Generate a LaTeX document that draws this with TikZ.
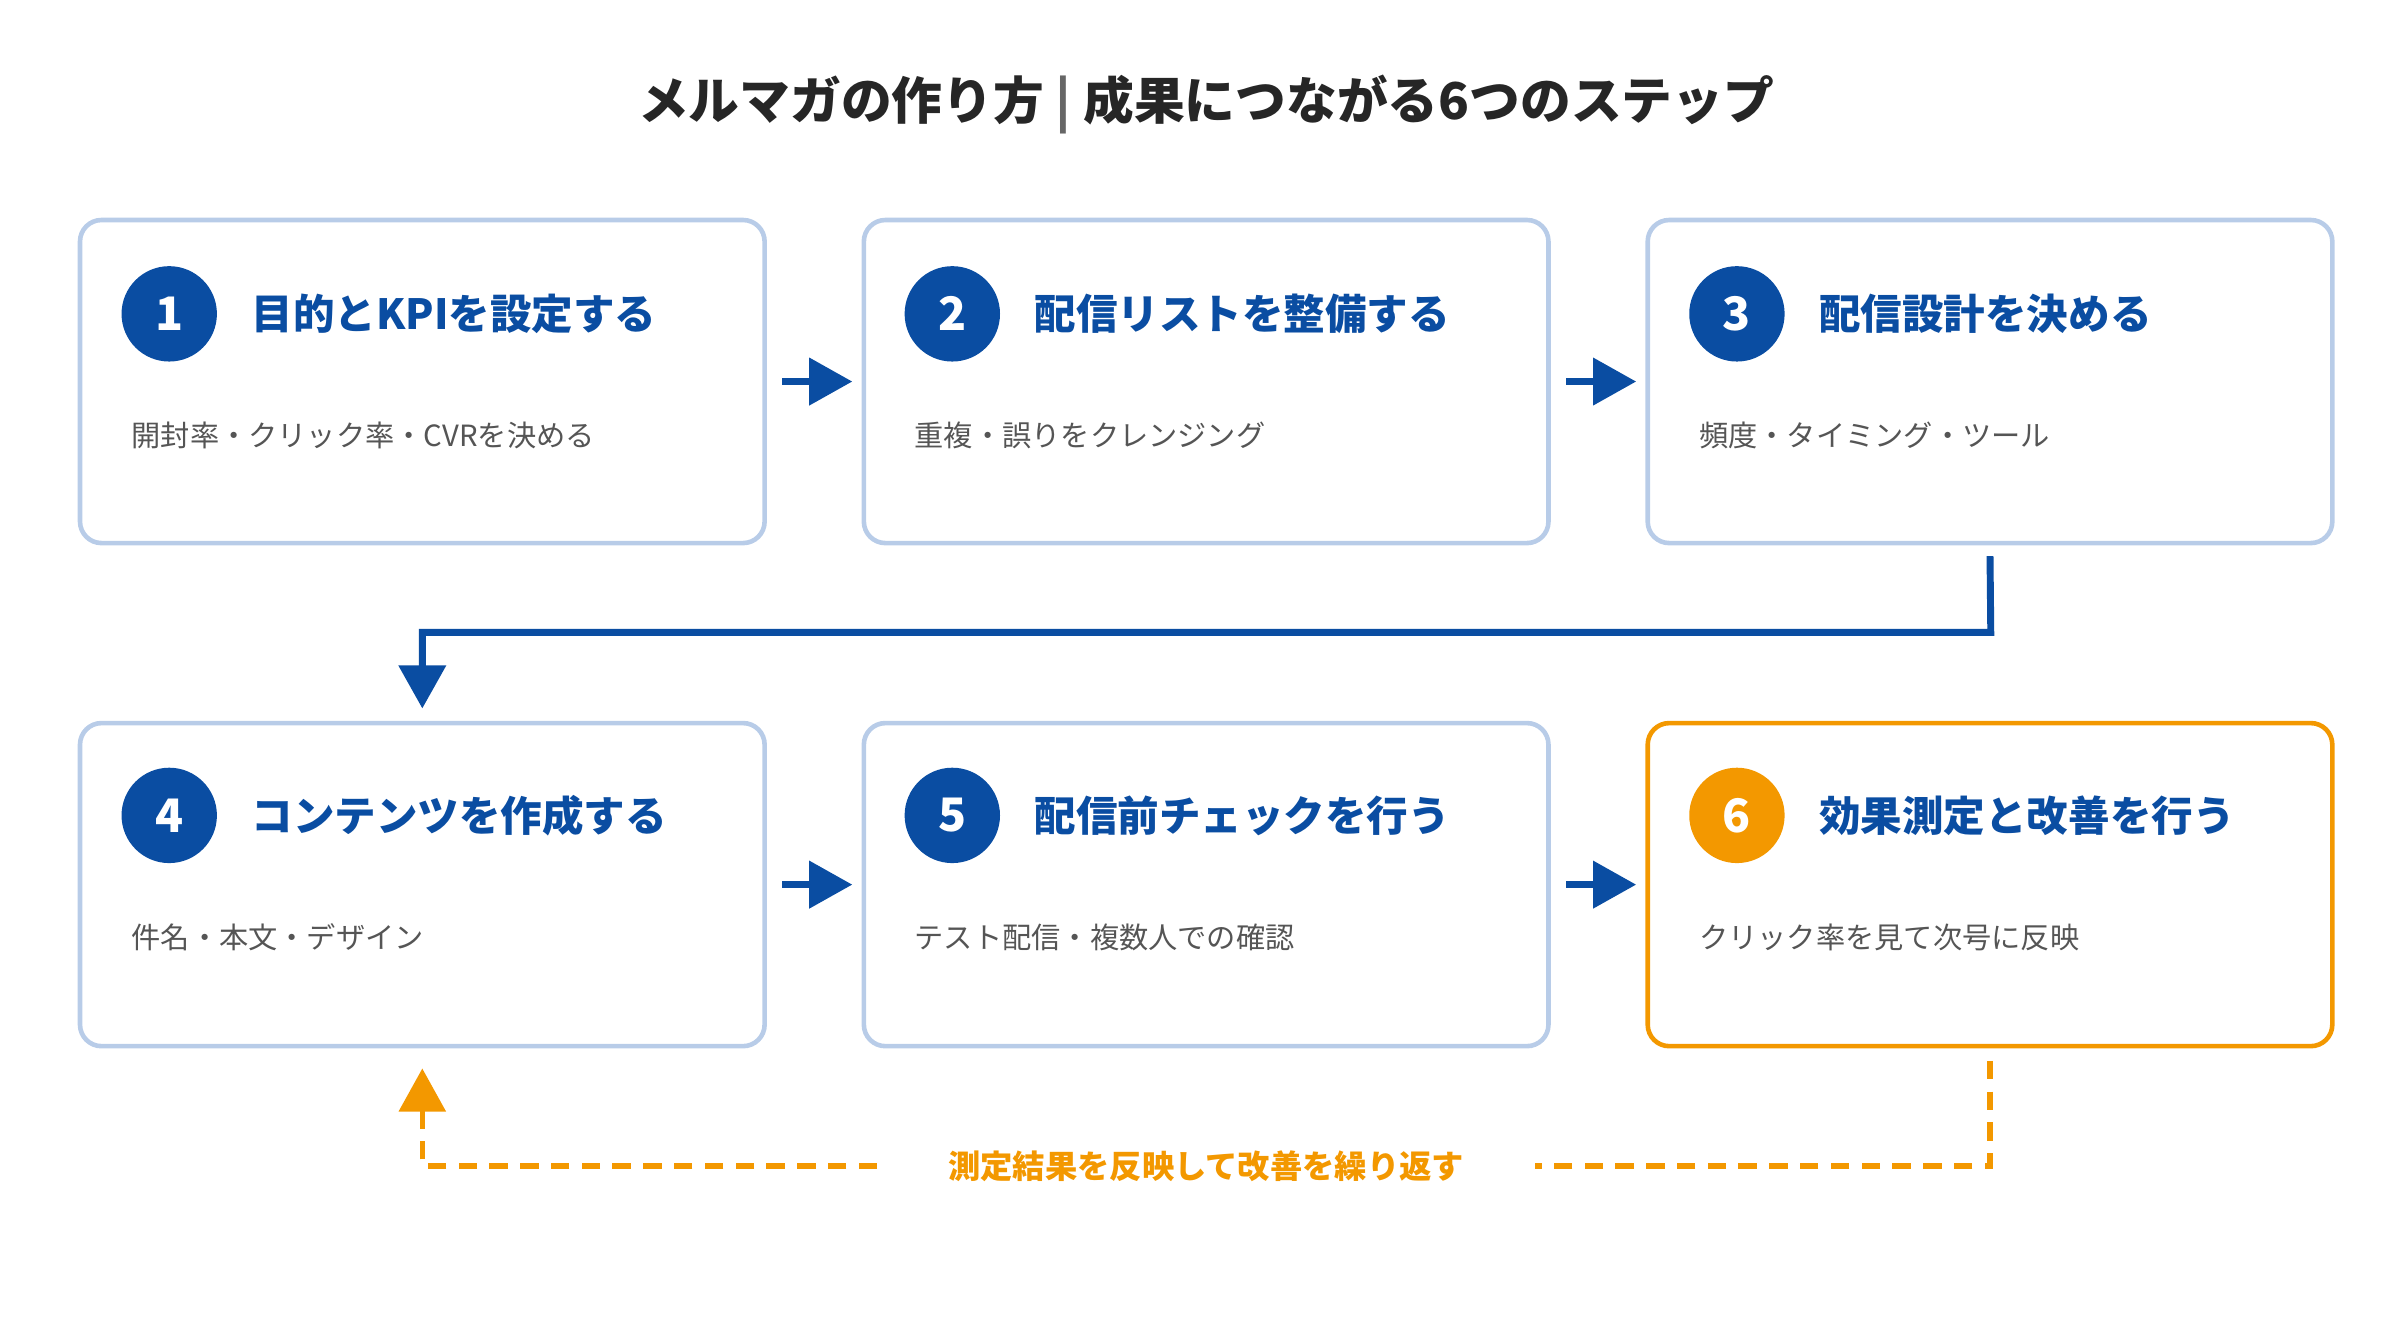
\documentclass[tikz,border=0pt]{standalone}
\usepackage{fontspec}
\setmainfont{Noto Sans CJK JP}
\usetikzlibrary{arrows.meta,positioning}
\definecolor{mainblue}{HTML}{0A4DA2}
\definecolor{lineblue}{HTML}{B8CCE8}
\definecolor{accent}{HTML}{F39800}
\definecolor{subgray}{HTML}{555555}
\begin{document}
\begin{tikzpicture}[x=1pt,y=-1pt]
\tikzset{ >={Triangle[width=30pt,length=28pt]},
  stepbox/.style={draw=lineblue, line width=3pt, rounded corners=14pt,
    minimum width=445pt, minimum height=210pt, inner sep=0pt},
  num/.style={circle, fill=mainblue, minimum size=62pt, inner sep=0pt,
    text=white, font=\bfseries\fontsize{30}{30}\selectfont},
  head/.style={anchor=west, text=mainblue, font=\bfseries\fontsize{27}{27}\selectfont},
  sub/.style={anchor=west, text=subgray, font=\fontsize{19}{19}\selectfont},
  flow/.style={->, mainblue, line width=4.5pt},
  back/.style={->, accent, line width=3.5pt, dash pattern=on 12pt off 8pt},
}
\useasboundingbox (0,0) rectangle (1560,865);

\node [font=\bfseries\fontsize{33}{33}\selectfont, text=black!85] (title) at (784,68)
  {メルマガの作り方 \textcolor{black!60}{|} 成果につながる6つのステップ};

% boxes
\node [stepbox] (b1) at (274.5,248) {};
\node [stepbox] (b2) at (784,248) {};
\node [stepbox] (b3) at (1293.5,248) {};
\node [stepbox] (b4) at (274.5,575) {};
\node [stepbox] (b5) at (784,575) {};
\node [stepbox, draw=accent] (b6) at (1293.5,575) {};

% numbers
\node [num] (n1) at (110,204) {1};
\node [num] (n2) at (619,204) {2};
\node [num] (n3) at (1129,204) {3};
\node [num] (n4) at (110,530) {4};
\node [num] (n5) at (619,530) {5};
\node [num, fill=accent] (n6) at (1129,530) {6};

% headings
\node [head] (h1) at (160,204) {目的とKPIを設定する};
\node [head] (h2) at (669,204) {配信リストを整備する};
\node [head] (h3) at (1179,204) {配信設計を決める};
\node [head] (h4) at (160,530) {コンテンツを作成する};
\node [head] (h5) at (669,530) {配信前チェックを行う};
\node [head] (h6) at (1179,530) {効果測定と改善を行う};

% details
\node [sub] (s1) at (82,283) {開封率・クリック率・CVRを決める};
\node [sub] (s2) at (591,283) {重複・誤りをクレンジング};
\node [sub] (s3) at (1101,283) {頻度・タイミング・ツール};
\node [sub] (s4) at (82,609) {件名・本文・デザイン};
\node [sub] (s5) at (591,609) {テスト配信・複数人での確認};
\node [sub] (s6) at (1101,609) {クリック率を見て次号に反映};

% flow
\draw [flow] ([xshift=10pt]b1.east) -- ([xshift=-6pt]b2.west);
\draw [flow] ([xshift=10pt]b2.east) -- ([xshift=-6pt]b3.west);
\draw [flow] ([xshift=10pt]b4.east) -- ([xshift=-6pt]b5.west);
\draw [flow] ([xshift=10pt]b5.east) -- ([xshift=-6pt]b6.west);
\coordinate (turn) at (1294,411);
\draw [flow] ([yshift=-7pt]b3.south) -- (turn) -| ([yshift=8pt]b4.north);

% loop back
\node [text=accent, inner xsep=46pt, font=\bfseries\fontsize{21}{21}\selectfont] (loop) at (784,758)
  {測定結果を反映して改善を繰り返す};
\draw [back, -] ([yshift=-8pt]b6.south) |- (loop.east);
\draw [back] (loop.west) -| ([yshift=-13pt]b4.south);

\end{tikzpicture}
\end{document}
